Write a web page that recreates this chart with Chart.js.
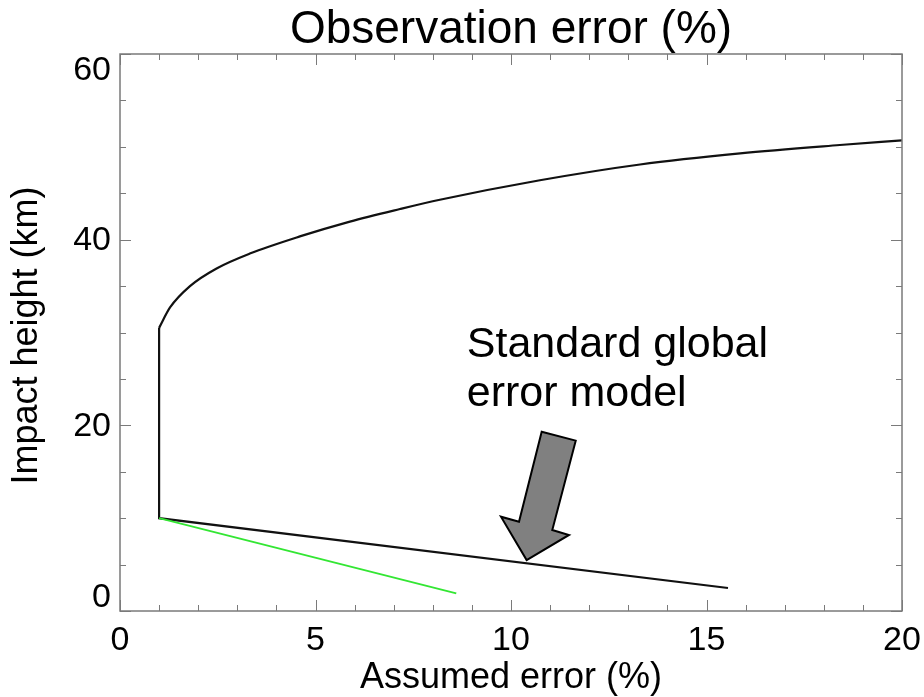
<!DOCTYPE html>
<html>
<head>
<meta charset="utf-8">
<script src="https://cdn.jsdelivr.net/npm/chart.js@4/dist/chart.umd.min.js"></script>
<style>
  html, body { margin: 0; padding: 0; background: #fff; }
  #wrap { width: 924px; height: 697px; }
</style>
</head>
<body>
<div id="wrap"><canvas id="grafico"></canvas></div>
<script>
// upper branch of the error profile (percent, km)
const upperX = [1.0, 1.28, 1.79, 2.47, 3.32, 4.6, 5.88, 7.16, 8.18, 10.74, 13.3, 15.86, 18.41, 20.0];
const upperY = [30.5, 32.7, 35.0, 36.9, 38.5, 40.35, 41.95, 43.3, 44.3, 46.4, 48.1, 49.3, 50.2, 50.7];

// vertical stem and the lower branch
const lowerX = [1.0, 1.0, 15.55];
const lowerY = [30.5, 10.0, 2.48];

// green line
const greenX = [1.0, 8.6];
const greenY = [10.0, 1.9];

// axes
const xTicks = [0, 5, 10, 15, 20];
const yTicks = [0, 20, 40, 60];
const xMinorStep = 1;
const yMinorStep = 5;

const titleText = 'Observation error (%)';
const xTitle = 'Assumed error (%)';
const yTitle = 'Impact height (km)';
const noteLines = ['Standard global', 'error model'];

// arrow outline, in data units
const arrowX = [10.785, 11.655, 11.056, 11.483, 10.40, 9.744, 10.205];
const arrowY = [19.31, 18.35, 8.73, 8.19, 5.49, 10.16, 9.62];

function pts(xs, ys) {
    return xs.map(function (x, i) { return { x: x, y: ys[i] }; });
}

const FONT = '"Liberation Sans", Arial, Helvetica, sans-serif';

// frame, ticks on four sides, labels and the annotation
const idlAxes = {
    id: 'idlAxes',
    afterDatasetsDraw: function (chart) {
        const ctx = chart.ctx;
        const a = chart.chartArea;
        const sx = chart.scales.x;
        const sy = chart.scales.y;
        ctx.save();

        // arrow
        ctx.beginPath();
        arrowX.forEach(function (x, i) {
            const px = sx.getPixelForValue(x);
            const py = sy.getPixelForValue(arrowY[i]);
            if (i === 0) ctx.moveTo(px, py); else ctx.lineTo(px, py);
        });
        ctx.closePath();
        ctx.fillStyle = '#808080';
        ctx.fill();
        ctx.lineWidth = 2;
        ctx.strokeStyle = '#000';
        ctx.lineJoin = 'miter';
        ctx.stroke();

        // note text
        ctx.fillStyle = '#000';
        ctx.font = '43px ' + FONT;
        ctx.textAlign = 'left';
        ctx.textBaseline = 'alphabetic';
        ctx.fillText(noteLines[0], sx.getPixelForValue(8.87), sy.getPixelForValue(27.36));
        ctx.fillText(noteLines[1], sx.getPixelForValue(8.87), sy.getPixelForValue(22.08));

        // frame
        ctx.strokeStyle = '#7a7a7a';
        ctx.lineWidth = 1.5;
        ctx.strokeRect(a.left, a.top, a.right - a.left, a.bottom - a.top);

        // x ticks (bottom and top)
        ctx.beginPath();
        for (let v = sx.min; v <= sx.max + 1e-9; v += xMinorStep) {
            const px = Math.round(sx.getPixelForValue(v)) + 0.5;
            const len = xTicks.indexOf(v) >= 0 ? 11 : 6;
            ctx.moveTo(px, a.bottom); ctx.lineTo(px, a.bottom - len);
            ctx.moveTo(px, a.top); ctx.lineTo(px, a.top + len);
        }
        // y ticks (left and right)
        for (let v = sy.min; v <= sy.max + 1e-9; v += yMinorStep) {
            const py = Math.round(sy.getPixelForValue(v)) + 0.5;
            const len = yTicks.indexOf(v) >= 0 ? 11 : 6;
            ctx.moveTo(a.left, py); ctx.lineTo(a.left + len, py);
            ctx.moveTo(a.right, py); ctx.lineTo(a.right - len, py);
        }
        ctx.lineWidth = 1;
        ctx.stroke();

        // tick labels
        ctx.fillStyle = '#000';
        ctx.font = '34px ' + FONT;
        ctx.textAlign = 'center';
        ctx.textBaseline = 'alphabetic';
        xTicks.forEach(function (v) {
            ctx.fillText(String(v), sx.getPixelForValue(v), a.bottom + 39);
        });
        ctx.textAlign = 'right';
        ctx.textBaseline = 'middle';
        yTicks.forEach(function (v) {
            let py = sy.getPixelForValue(v);
            py = Math.min(Math.max(py, a.top + 16), a.bottom - 14);
            ctx.fillText(String(v), a.left - 9, py + 1);
        });

        // titles
        ctx.textAlign = 'center';
        ctx.textBaseline = 'alphabetic';
        ctx.font = '46px ' + FONT;
        ctx.fillText(titleText, (a.left + a.right) / 2, 43);
        ctx.font = '36px ' + FONT;
        ctx.fillText(xTitle, (a.left + a.right) / 2, 688);
        ctx.translate(37, (a.top + a.bottom) / 2 + 3);
        ctx.rotate(-Math.PI / 2);
        ctx.fillText(yTitle, 0, 0);

        ctx.restore();
    }
};

const ctx = document.getElementById('grafico').getContext('2d');
const grafico = new Chart(ctx, {
    type: 'scatter',
    data: {
        datasets: [{
            data: pts(greenX, greenY),
            showLine: true,
            borderColor: '#33e633',
            borderWidth: 1.8,
            pointRadius: 0
        }, {
            data: pts(lowerX, lowerY),
            showLine: true,
            borderColor: '#111',
            borderWidth: 2.2,
            pointRadius: 0
        }, {
            data: pts(upperX, upperY),
            showLine: true,
            borderColor: '#111',
            borderWidth: 2.2,
            pointRadius: 0,
            cubicInterpolationMode: 'monotone'
        }]
    },
    options: {
        responsive: true,
        maintainAspectRatio: false,
        animation: false,
        events: [],
        layout: {
            padding: { left: 120, right: 22, top: 54, bottom: 86 }
        },
        scales: {
            x: { type: 'linear', min: 0, max: 20, display: false },
            y: { type: 'linear', min: 0, max: 60, display: false }
        },
        plugins: {
            legend: { display: false },
            tooltip: { enabled: false }
        }
    },
    plugins: [idlAxes]
});
</script>
</body>
</html>
